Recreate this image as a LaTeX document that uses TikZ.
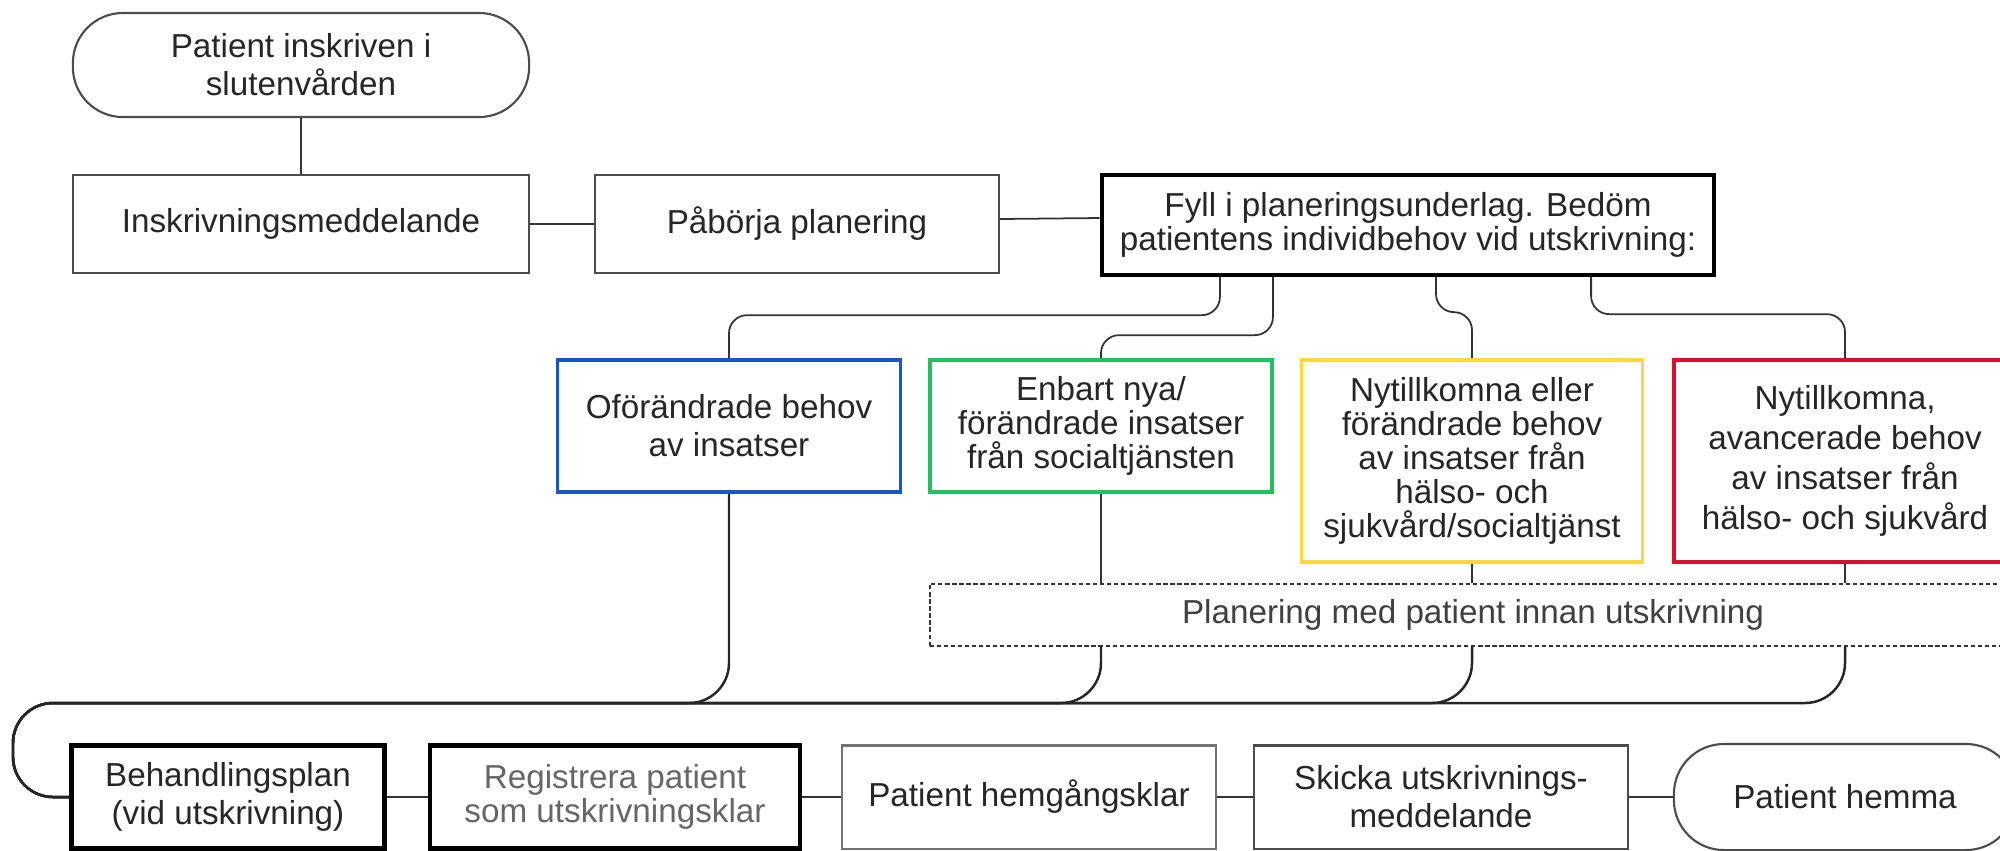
\documentclass[tikz,border=0pt]{standalone}
\usepackage{fontspec}
\setmainfont{Liberation Sans}
\definecolor{oblue}{RGB}{26,86,196}
\definecolor{ogreen}{RGB}{34,192,96}
\definecolor{oyellow}{RGB}{255,216,64}
\definecolor{ored}{RGB}{216,16,44}
\begin{document}
\begin{tikzpicture}[
		x=0.01cm, y=-0.01cm,
		box/.style={draw=black!70, line width=0.6pt, align=center, inner sep=0pt, text=black!85, font=\fontsize{9.45}{10.8}\selectfont},
		tight/.style={font=\fontsize{9.45}{9.7}\selectfont},
		thickbox/.style={box, draw=black, line width=1.2pt},
		endbox/.style={box, rounded corners=0.5cm},
		needbox/.style={box, line width=1pt},
		link/.style={draw=black!80, line width=0.5pt, rounded corners=0.18cm},
		bus/.style={draw=black!85, line width=0.7pt, rounded corners=0.4cm}
	]
	\useasboundingbox (0,0) rectangle (2000,850);

	\node[endbox, minimum width=4.56cm, minimum height=1.04cm] (start) at (301,65) {Patient inskriven i\\slutenvården};
	\node[box, minimum width=4.56cm, minimum height=0.98cm] (inskr) at (301,224) {Inskrivningsmeddelande};
	\node[box, minimum width=4.03cm, minimum height=0.98cm] (pabo) at (797,224) {Påbörja planering};
	\node[thickbox, tight, minimum width=6.12cm, minimum height=1cm] (fyll) at (1408,225) {Fyll i planeringsunderlag. Bedöm\\patientens individbehov vid utskrivning:};

	\node[needbox, draw=oblue, minimum width=3.43cm, minimum height=1.32cm] (ofor) at (729,426) {Oförändrade behov\\av insatser};
	\node[needbox, tight, draw=ogreen, minimum width=3.42cm, minimum height=1.32cm] (enbart) at (1101,426) {Enbart nya/\\förändrade insatser\\från socialtjänsten};
	\node[needbox, tight, draw=oyellow, minimum width=3.41cm, minimum height=2.02cm] (nytill) at (1472,461) {Nytillkomna eller\\förändrade behov\\av insatser från\\hälso- och\\sjukvård/socialtjänst};
	\node[needbox, draw=ored, font=\fontsize{9.45}{11.4}\selectfont, minimum width=3.42cm, minimum height=2.02cm] (avanc) at (1845,461) {Nytillkomna,\\avancerade behov\\av insatser från\\hälso- och sjukvård};
	\node[box, draw=black!80, dash pattern=on 1.2pt off 0.8pt, text=black!75, minimum width=10.86cm, minimum height=0.62cm] (plan) at (1473,615) {Planering med patient innan utskrivning};

	\node[thickbox, minimum width=3.13cm, minimum height=1.03cm] (behandl) at (228,797) {Behandlingsplan\\(vid utskrivning)};
	\node[thickbox, tight, text=black!60, minimum width=3.7cm, minimum height=1.03cm] (regis) at (615,797) {Registrera patient\\som utskrivningsklar};
	\node[box, draw=black!55, minimum width=3.74cm, minimum height=1.03cm] (hemg) at (1029,797) {Patient hemgångsklar};
	\node[box, minimum width=3.73cm, minimum height=1.03cm] (skicka) at (1441,797) {Skicka utskrivnings-\\meddelande};
	\node[endbox, minimum width=3.42cm, minimum height=1.06cm] (hemma) at (1845,797) {Patient hemma};
	\coordinate (busL) at (13,703);

	\draw[link] (start) -- (inskr);
	\draw[link] (inskr) -- (pabo);
	\draw[link] ([yshift=0.05cm]pabo.east) -- ([yshift=0.07cm]fyll.west);

	\draw[link] ([xshift=-1.88cm]fyll.south) -- ++(0,38) -| (ofor.north);
	\draw[link] ([xshift=-1.35cm]fyll.south) -- ++(0,58) -| (enbart.north);
	\draw[link] ([xshift=0.28cm]fyll.south) -- ++(0,35) -| (nytill.north);
	\draw[link] ([xshift=1.83cm]fyll.south) -- ++(0,37) -| (avanc.north);

	\draw[link] (enbart.south) -- (plan.north -| enbart);
	\draw[link] (nytill.south) -- (plan.north -| nytill);
	\draw[link] (avanc.south) -- (plan.north -| avanc);

	\draw[bus] (ofor.south) |- (busL) |- (behandl.west);
	\draw[bus] (plan.south -| enbart) |- (busL) |- (behandl.west);
	\draw[bus] (plan.south -| nytill) |- (busL) |- (behandl.west);
	\draw[bus] (plan.south -| avanc) |- (busL) |- (behandl.west);

	\draw[link] (behandl) -- (regis);
	\draw[link] (regis) -- (hemg);
	\draw[link] (hemg) -- (skicka);
	\draw[link] (skicka) -- (hemma);
\end{tikzpicture}
\end{document}
